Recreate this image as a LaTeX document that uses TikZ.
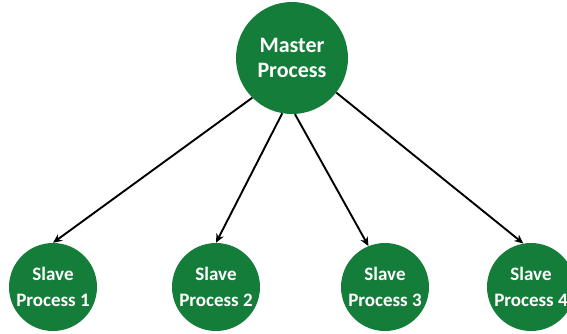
\documentclass[tikz,border=0pt]{standalone}
\usepackage{fontspec}
\setmainfont{Carlito}
\usepackage{xcolor}
\usepackage{tikz}
\usetikzlibrary{arrows.meta}

\definecolor{procgreen}{RGB}{20,125,58}

\begin{document}
\begin{tikzpicture}[x=1pt,y=-1pt]
				\clip (0,0) rectangle (567,333);
				\begin{scope}[every node/.style={circle,fill=procgreen,text=white,inner sep=0pt,align=center}]
				    \node[minimum size=112pt,font=\bfseries\fontsize{22}{25}\selectfont]  (M) at (292,58) {Master\\Process};
				    \node[minimum size=88pt,font=\bfseries\fontsize{19}{26}\selectfont]  (S1) at (53,287) {Slave\\Process 1};
				    \node[minimum size=88pt,font=\bfseries\fontsize{19}{26}\selectfont]  (S2) at (216,287) {Slave\\Process 2};
				    \node[minimum size=88pt,font=\bfseries\fontsize{19}{26}\selectfont]  (S3) at (385,287) {Slave\\Process 3};
				    \node[minimum size=88pt,font=\bfseries\fontsize{19}{26}\selectfont]  (S4) at (531,287) {Slave\\Process 4};
				\end{scope}

				\begin{scope}[>={Stealth[black,length=9pt,width=8pt]},
				              every edge/.style={draw=black,line width=1.9pt}]
				    \path [->] (M.225) edge (S1.north);
				    \path [->] (M.260) edge (S2.north);
				    \path [->] (M.273) edge (S3.112);
				    \path [->] (M.322) edge (S4.100);
				\end{scope}
				\end{tikzpicture}
\end{document}
